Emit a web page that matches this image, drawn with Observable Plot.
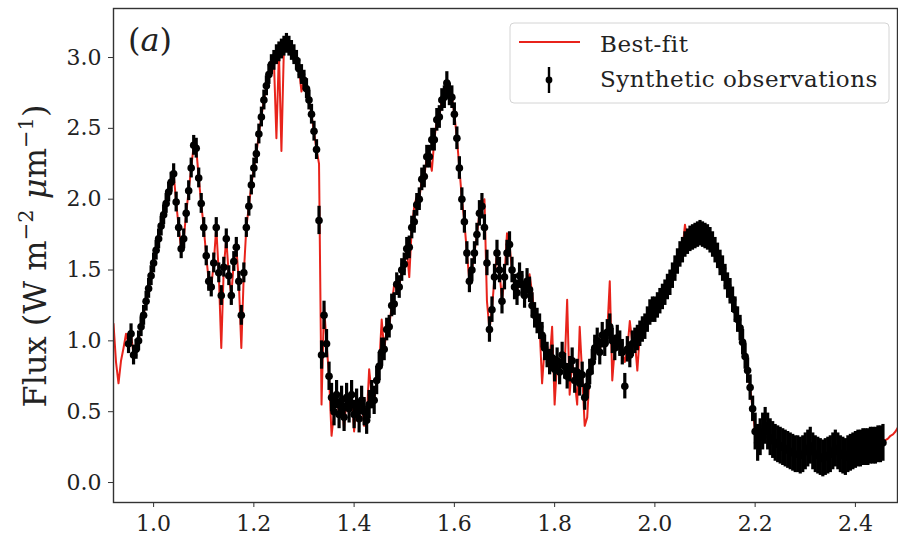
<!DOCTYPE html>
<html><head><meta charset="utf-8">
<script src="https://cdn.jsdelivr.net/npm/d3@7"></script>
<script src="https://cdn.jsdelivr.net/npm/@observablehq/plot@0.6"></script>
<style>
html,body{margin:0;padding:0;background:#fff;}
#chart{width:898px;height:538px;}
</style></head><body><div id="chart"></div>
<script>
// Synthetic observations: wavelength grid (µm) start/step and flux values
const obsStart = 0.950, obsStep = 0.005;
const obsFlux = [
  0.98,1.05,0.90,0.94,1.00,1.10,1.18,1.28,1.37,1.46,
  1.55,1.64,1.72,1.81,1.89,1.97,2.05,2.12,2.18,1.98,
  1.80,1.65,1.72,1.90,2.06,2.22,2.38,2.36,2.15,1.97,
  1.80,1.60,1.42,1.38,1.55,1.80,1.48,1.32,1.52,1.72,
  1.46,1.32,1.56,1.66,1.42,1.18,1.48,1.80,1.95,2.10,
  2.22,2.32,2.46,2.58,2.70,2.80,2.88,2.95,2.98,3.02,
  3.04,3.06,3.08,3.10,3.08,3.05,3.02,2.98,2.92,2.88,
  2.84,2.78,2.70,2.60,2.48,2.35,1.85,0.90,1.18,0.98,
  0.75,0.60,0.50,0.62,0.48,0.58,0.46,0.60,0.52,0.62,
  0.48,0.56,0.45,0.58,0.50,0.44,0.55,0.62,0.58,0.72,
  0.82,0.92,0.94,1.08,1.10,1.25,1.26,1.40,1.38,1.50,
  1.54,1.65,1.66,1.80,1.84,1.96,2.00,2.14,2.16,2.30,
  2.30,2.42,2.42,2.56,2.58,2.70,2.72,2.82,2.74,2.72,
  2.60,2.43,2.22,2.00,1.84,1.62,1.42,1.50,1.62,1.75,
  1.90,1.95,1.80,1.55,1.08,1.22,1.45,1.62,1.50,1.28,
  1.45,1.62,1.68,1.50,1.38,1.34,1.46,1.40,1.32,1.42,
  1.36,1.25,1.18,1.14,1.10,1.04,0.95,0.90,0.85,0.88,
  0.80,0.86,0.78,0.90,0.82,0.75,0.80,0.86,0.72,0.78,
  0.70,0.76,0.60,0.68,0.78,0.85,0.95,1.00,0.92,1.04,
  0.98,1.06,1.10,1.00,0.95,1.02,0.98,0.92,0.68,0.94,
  0.90,0.98,1.00,1.02,1.05,1.08,1.10,1.15,1.20,1.22,
  1.22,1.25,1.28,1.31,1.34,1.38,1.41,1.46,1.51,1.56,
  1.61,1.64,1.68,1.70,1.72,1.73,1.74,1.75,1.76,1.75,
  1.74,1.73,1.71,1.68,1.64,1.60,1.55,1.51,1.45,1.39,
  1.35,1.29,1.22,1.15,1.09,0.99,0.89,0.79,0.67,0.52,
  0.36,0.28,0.32,0.36,0.40,0.36,0.32,0.30,0.28,0.27,
  0.26,0.25,0.24,0.23,0.22,0.21,0.20,0.20,0.19,0.20,
  0.22,0.24,0.26,0.22,0.20,0.19,0.18,0.17,0.18,0.19,
  0.20,0.22,0.24,0.22,0.20,0.19,0.18,0.20,0.21,0.22,
  0.23,0.24,0.24,0.25,0.25,0.25,0.26,0.26,0.26,0.27,
  0.27,0.28
];
// Error-bar half-lengths by wavelength band
const errEdges = [0.95, 1.33, 1.46, 1.65, 1.98, 2.20, 2.46];
const errSizes = [0.07, 0.10, 0.08, 0.09, 0.09, 0.13];

// Best-fit model: wavelength grid start/step and flux values
const fitStart = 0.920, fitStep = 0.005;
const fitFlux = [
  1.12,0.85,0.70,0.86,0.95,1.05,
  0.98,1.05,0.90,0.94,1.00,1.10,1.18,1.28,1.37,1.46,
  1.55,1.64,1.72,1.81,1.89,1.97,2.05,2.12,2.18,1.98,
  1.80,1.65,1.72,1.90,2.06,2.22,2.38,2.36,2.15,1.97,
  1.80,1.60,1.42,1.38,1.55,1.80,1.48,0.95,1.52,1.72,
  1.46,1.32,1.56,1.66,1.42,0.95,1.48,1.80,1.95,2.10,
  2.22,2.32,2.46,2.58,2.70,2.80,2.88,2.95,2.98,2.43,
  3.04,2.34,3.08,3.10,3.08,3.05,3.02,2.98,2.92,2.76,
  2.84,2.78,2.70,2.60,2.47,2.35,2.25,0.55,1.25,0.98,
  0.75,0.33,0.50,0.62,0.48,0.58,0.38,0.60,0.52,0.62,
  0.36,0.56,0.45,0.58,0.40,0.44,0.80,0.62,0.58,0.72,
  0.82,1.15,0.94,1.08,1.10,1.25,1.40,1.40,1.38,1.50,
  1.54,1.65,1.45,1.80,1.95,2.02,2.00,2.14,2.16,2.30,
  2.30,2.20,2.42,2.56,2.58,2.70,2.72,2.82,2.74,2.72,
  2.60,2.43,2.22,2.00,1.84,1.62,1.42,1.50,1.62,1.75,
  1.90,1.95,2.00,1.28,1.08,1.22,1.45,1.62,1.50,1.28,
  1.45,1.76,1.68,1.50,1.38,1.34,1.46,1.40,1.32,1.42,
  1.47,1.34,1.18,1.14,1.10,0.70,0.95,0.90,0.85,1.10,
  0.55,0.86,0.78,0.90,0.82,1.29,0.62,0.86,0.72,0.55,
  1.10,0.76,0.40,0.46,0.78,0.85,0.95,1.00,0.92,1.04,
  0.98,1.06,1.42,0.72,0.95,1.02,0.98,0.92,0.85,0.94,
  1.14,0.98,1.00,0.79,1.05,1.08,1.10,1.15,1.20,1.22,
  1.22,1.25,1.28,1.31,1.34,1.38,1.41,1.46,1.51,1.56,
  1.61,1.64,1.82,1.70,1.72,1.73,1.74,1.75,1.76,1.75,
  1.74,1.73,1.71,1.68,1.64,1.60,1.55,1.51,1.45,1.39,
  1.35,1.29,1.22,1.15,1.09,0.99,0.89,0.79,0.67,0.52,
  0.36,0.28,0.32,0.36,0.40,0.36,0.32,0.30,0.28,0.27,
  0.26,0.25,0.24,0.23,0.22,0.21,0.20,0.20,0.19,0.20,
  0.22,0.24,0.26,0.22,0.20,0.19,0.18,0.17,0.18,0.19,
  0.20,0.22,0.24,0.22,0.20,0.19,0.18,0.20,0.21,0.22,
  0.23,0.24,0.24,0.25,0.25,0.25,0.26,0.26,0.26,0.27,
  0.27,0.28,
  0.30,0.31,0.33,0.34,0.36,0.39
];

const xTicks = [1.0, 1.2, 1.4, 1.6, 1.8, 2.0, 2.2, 2.4];
const yTicks = [0.0, 0.5, 1.0, 1.5, 2.0, 2.5, 3.0];
const xDomain = [0.92, 2.484];
const yDomain = [-0.141, 3.346];

const legendLabels = ["Best-fit", "Synthetic observations"];
const panelLabel = "a";

function errFor(x) {
  for (let k = 0; k < errSizes.length; k++) {
    if (x >= errEdges[k] - 1e-9 && x < errEdges[k + 1]) return errSizes[k];
  }
  return errSizes[errSizes.length - 1];
}

const obs = obsFlux.map((y, i) => {
  const x = +(obsStart + i * obsStep).toFixed(3);
  return {x, y, err: errFor(x)};
});
const fit = fitFlux.map((y, i) => ({x: +(fitStart + i * fitStep).toFixed(3), y}));

const RED = "#e8231b";
const fmt = d3.format(".1f");

const plot = Plot.plot({
  width: 898, height: 538,
  marginTop: 8, marginRight: 1, marginBottom: 36, marginLeft: 113,
  x: {domain: xDomain},
  y: {domain: yDomain},
  style: {fontFamily: "'DejaVu Serif', serif", fontSize: "22px", color: "#222", background: "#fff", overflow: "visible"},
  marks: [
    Plot.line(fit, {x: "x", y: "y", stroke: RED, strokeWidth: 2, clip: true}),
    Plot.ruleX(obs, {x: "x", y1: d => d.y - d.err, y2: d => d.y + d.err, stroke: "#000", strokeWidth: 3.2}),
    Plot.dot(obs, {x: "x", y: "y", r: 3.8, fill: "#000", stroke: "none"}),
    Plot.frame({stroke: "#333", strokeWidth: 1.4}),
    Plot.axisX({ticks: xTicks, tickSize: 5, tickPadding: 8, tickFormat: fmt, label: null, stroke: "#333"}),
    Plot.axisY({ticks: yTicks, tickSize: 5, tickPadding: 7, tickFormat: fmt, label: null, stroke: "#333"})
  ]
});
document.getElementById("chart").appendChild(plot);

const svg = d3.select(plot);
const FONT = "'DejaVu Serif', serif";

// Y-axis label with superscripts
const yl = svg.append("text")
  .attr("transform", "translate(46,256) rotate(-90)")
  .attr("text-anchor", "middle")
  .style("font-family", FONT).style("font-size", "32px").attr("fill", "#222");
yl.append("tspan").text("Flux (W m");
yl.append("tspan").attr("dy", -13).style("font-size", "21px").text("\u22122");
yl.append("tspan").attr("dy", 13).text(" ");
yl.append("tspan").style("font-style", "italic").text("\u03bc");
yl.append("tspan").text("m");
yl.append("tspan").attr("dy", -13).style("font-size", "21px").text("\u22121");
yl.append("tspan").attr("dy", 13).text(")");

// Panel label
const pl = svg.append("text").attr("x", 128).attr("y", 51).attr("text-anchor", "start")
  .style("font-family", FONT).style("font-size", "32px").attr("fill", "#222");
pl.append("tspan").text("(");
pl.append("tspan").style("font-style", "italic").text(panelLabel);
pl.append("tspan").text(")");

// Legend
const lg = svg.append("g").attr("text-anchor", "start");
lg.append("rect").attr("x", 510).attr("y", 23).attr("width", 379).attr("height", 80)
  .attr("rx", 4).attr("fill", "#fff").attr("fill-opacity", 0.85).attr("stroke", "#d4d4d4").attr("stroke-width", 1);
lg.append("line").attr("x1", 519).attr("x2", 580).attr("y1", 42).attr("y2", 42)
  .attr("stroke", RED).attr("stroke-width", 2.2);
lg.append("text").attr("x", 600).attr("y", 52).attr("text-anchor", "start")
  .style("font-family", FONT).style("font-size", "23px").style("letter-spacing", "0.5px")
  .attr("fill", "#222").text(legendLabels[0]);
lg.append("line").attr("x1", 549).attr("x2", 549).attr("y1", 67).attr("y2", 93)
  .attr("stroke", "#000").attr("stroke-width", 2.4);
lg.append("circle").attr("cx", 549).attr("cy", 80).attr("r", 3.4).attr("fill", "#000");
lg.append("text").attr("x", 600).attr("y", 87).attr("text-anchor", "start")
  .style("font-family", FONT).style("font-size", "23px").style("letter-spacing", "0.5px")
  .attr("fill", "#222").text(legendLabels[1]);
</script>
</body></html>
